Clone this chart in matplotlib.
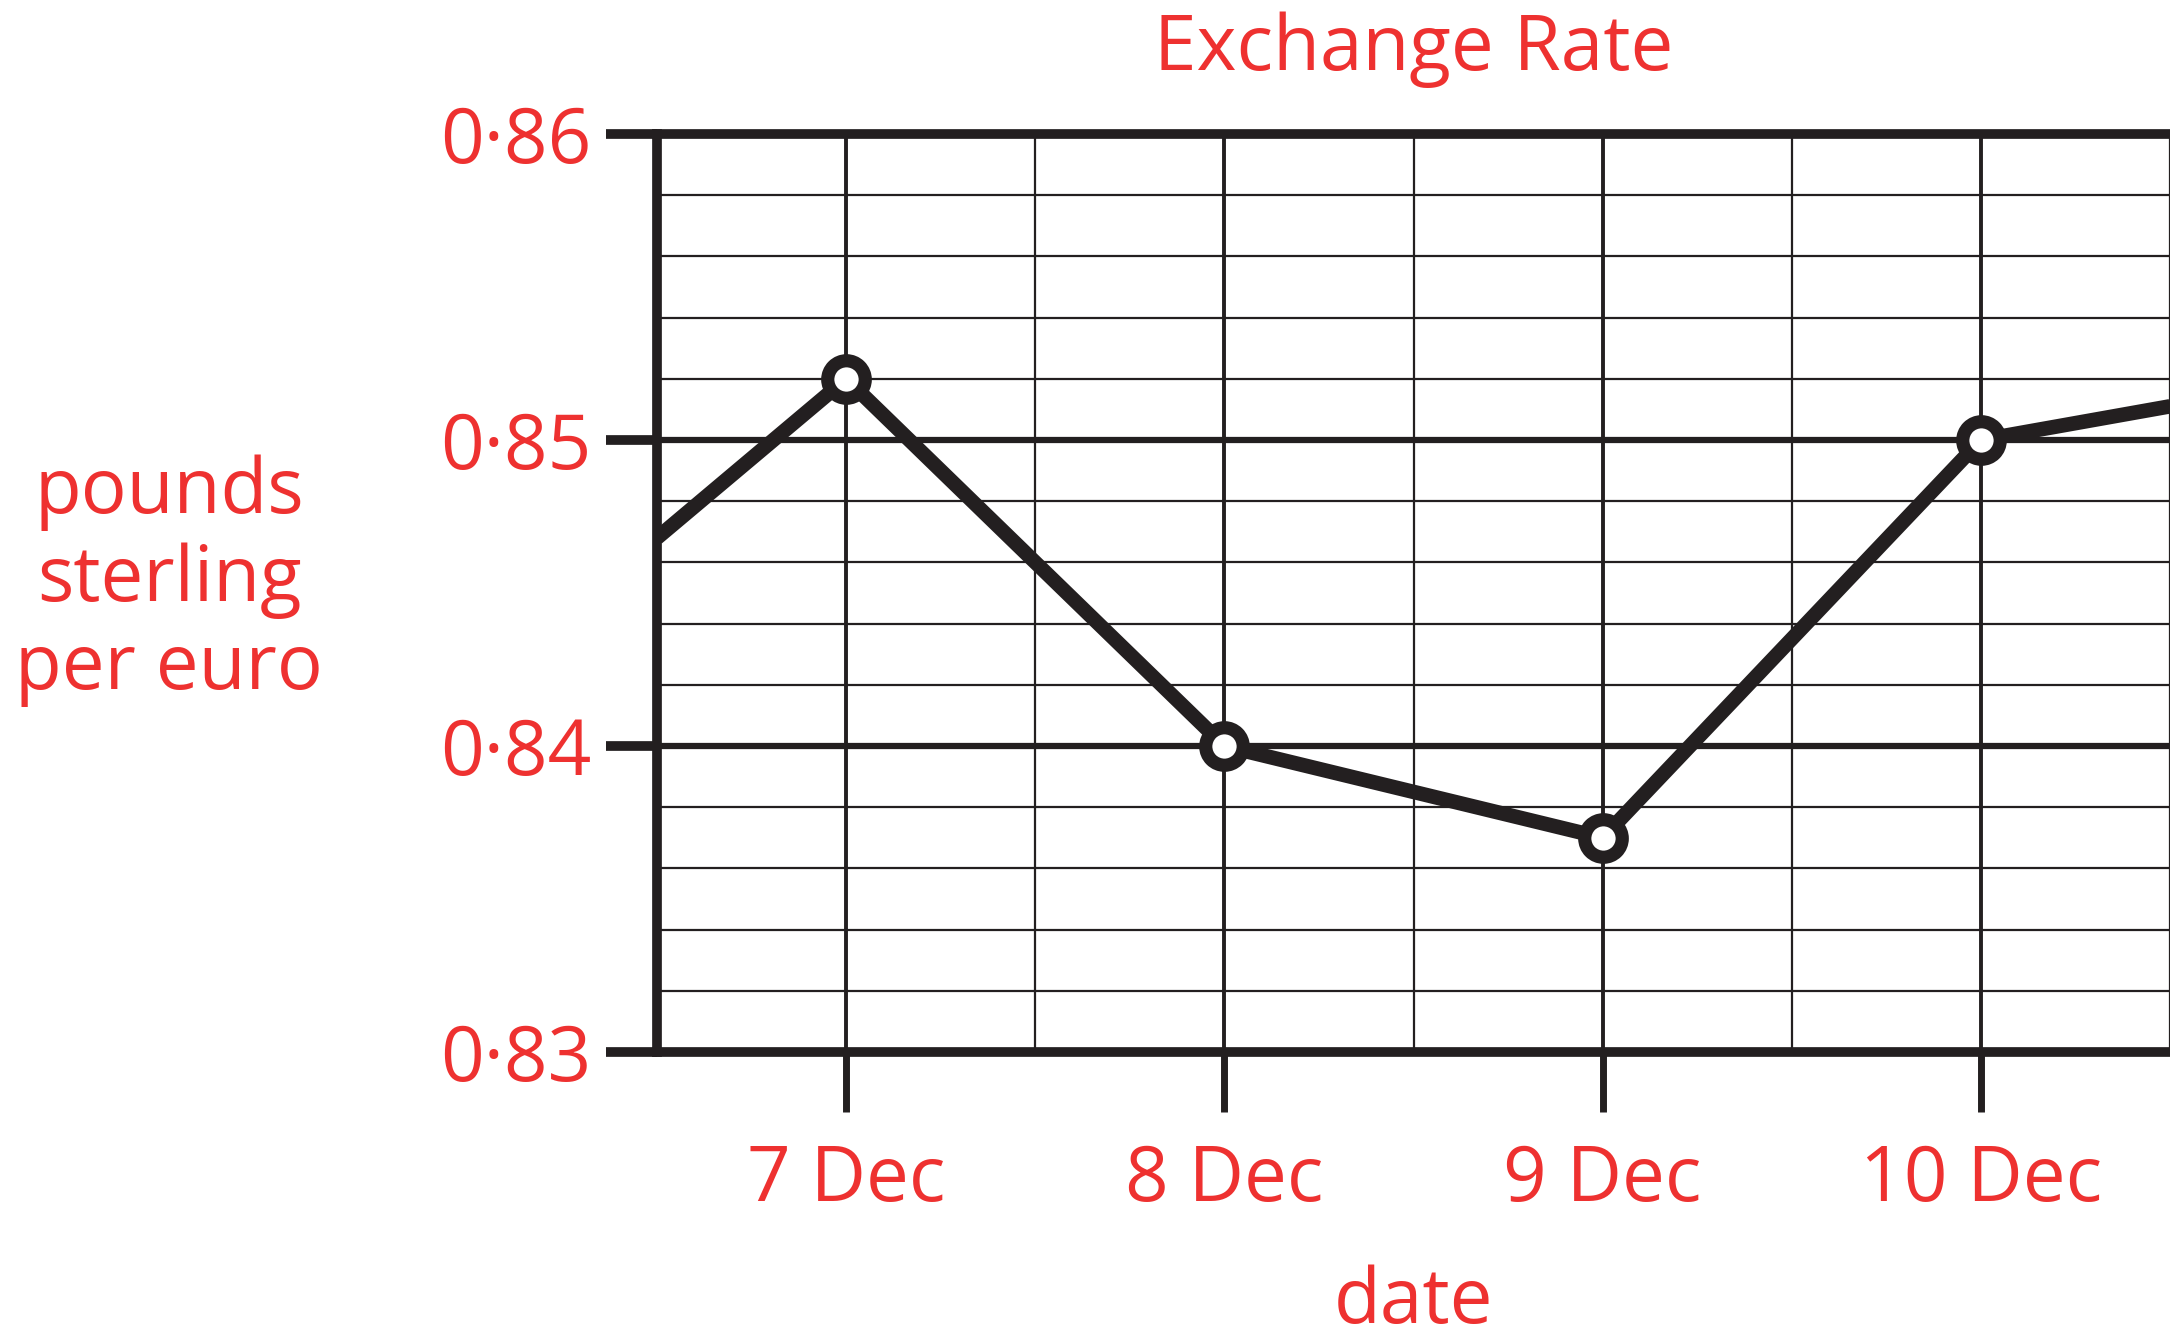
import matplotlib.pyplot as plt
from matplotlib.ticker import MultipleLocator

# data (x in days of December, edge points run off the grid)
days = [6.5, 7, 8, 9, 10, 10.5]
rate = [0.8468, 0.852, 0.840, 0.837, 0.850, 0.8511]
date_ticks = [7, 8, 9, 10]
date_labels = ["7 Dec", "8 Dec", "9 Dec", "10 Dec"]
rate_ticks = [0.83, 0.84, 0.85, 0.86]
rate_labels = ["0·83", "0·84", "0·85", "0·86"]

RED = "#EE3130"
INK = "#231F20"

plt.rcParams['font.family'] = ['Open Sans', 'DejaVu Sans']

fig = plt.figure(figsize=(21.7, 13.41), dpi=100)
ax = fig.add_axes([0.3028, 0.2155, 0.6972, 0.6846])

ax.set_xlim(6.5, 10.5)
ax.set_ylim(0.83, 0.86)

ax.xaxis.set_minor_locator(MultipleLocator(0.5))
ax.set_xticks(date_ticks)
ax.set_xticklabels(date_labels)
ax.set_yticks(rate_ticks)
ax.set_yticklabels(rate_labels)
ax.yaxis.set_minor_locator(MultipleLocator(0.002))

ax.grid(which='major', axis='y', color=INK, lw=4.5)
ax.grid(which='major', axis='x', color=INK, lw=2.8)
ax.grid(which='minor', axis='both', color=INK, lw=1.6)
ax.set_axisbelow(True)

ax.tick_params(axis='y', which='major', length=37, width=7, color=INK,
               pad=10, labelsize=55, labelcolor=RED)
ax.tick_params(axis='x', which='major', length=43, width=5, color=INK,
               pad=22, labelsize=55, labelcolor=RED)
ax.tick_params(which='minor', length=0)

ax.spines['right'].set_visible(False)
for side in ['left', 'bottom', 'top']:
    ax.spines[side].set_linewidth(7)
    ax.spines[side].set_color(INK)

ax.plot(days, rate, color=INK, lw=10.5, solid_capstyle='butt', zorder=3)
ax.plot(days[1:-1], rate[1:-1], ls='none', marker='o', ms=27, mew=9.5,
        mfc='white', mec=INK, zorder=4, clip_on=False)

ax.set_title("Exchange Rate", color=RED, fontsize=55, pad=46)
ax.set_xlabel("date", color=RED, fontsize=55, labelpad=33)
fig.text(0.078, 0.567, "pounds\nsterling\nper euro", color=RED, fontsize=55,
         ha='center', va='center', linespacing=1.2)

fig.savefig("out.png", dpi=100)
